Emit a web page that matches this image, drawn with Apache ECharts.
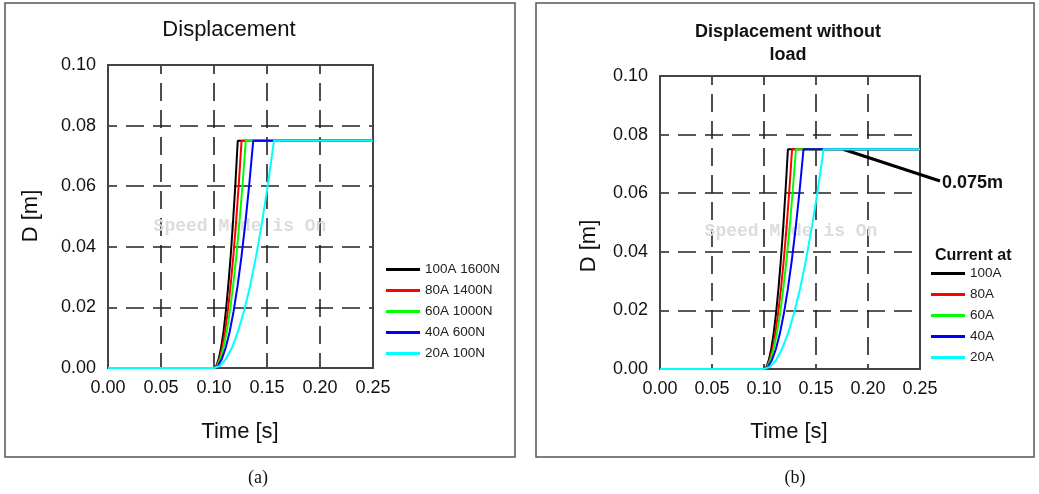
<!DOCTYPE html>
<html><head><meta charset="utf-8">
<script src="https://cdn.jsdelivr.net/npm/echarts@6/dist/echarts.min.js"></script>
<style>html,body{margin:0;padding:0;background:#fff}#c{width:1039px;height:494px}</style>
</head><body><div id="c"></div>
<script>
// ---------- data ----------
const xTickLabels = ['0.00', '0.05', '0.10', '0.15', '0.20', '0.25'];
const yTickLabels = ['0.00', '0.02', '0.04', '0.06', '0.08', '0.10'];
const simStart = 0.0;
const simEnd = 0.25;
const finalD = 0.075;
// displacement levels at which the curve crossings were read
const riseLevels = [0, 0.00075, 0.003, 0.00675, 0.012, 0.01875, 0.027, 0.03675, 0.048, 0.06075, 0.075];

// (a) Displacement (with load): times [s] at which each curve reaches riseLevels
const leftNames = ['100A 1600N', '80A 1400N', '60A 1000N', '40A 600N', '20A 100N'];
const a100A = [0.1000, 0.1022, 0.1045, 0.1067, 0.1090, 0.1112, 0.1134, 0.1157, 0.1179, 0.1202, 0.1224];
const a80A  = [0.1000, 0.1026, 0.1052, 0.1078, 0.1104, 0.1130, 0.1156, 0.1182, 0.1208, 0.1234, 0.1260];
const a60A  = [0.1000, 0.1030, 0.1060, 0.1090, 0.1120, 0.1150, 0.1180, 0.1210, 0.1240, 0.1270, 0.1300];
const a40A  = [0.1000, 0.1037, 0.1074, 0.1111, 0.1148, 0.1185, 0.1222, 0.1259, 0.1296, 0.1333, 0.1370];
const a20A  = [0.1000, 0.1057, 0.1113, 0.1170, 0.1226, 0.1283, 0.1340, 0.1396, 0.1453, 0.1509, 0.1566];

// (b) Displacement without load
const rightNames = ['100A', '80A', '60A', '40A', '20A'];
const b100A = [0.1000, 0.1023, 0.1046, 0.1069, 0.1092, 0.1115, 0.1138, 0.1161, 0.1184, 0.1207, 0.1230];
const b80A  = [0.1000, 0.1027, 0.1054, 0.1081, 0.1108, 0.1135, 0.1162, 0.1189, 0.1216, 0.1243, 0.1270];
const b60A  = [0.1000, 0.1031, 0.1061, 0.1092, 0.1123, 0.1154, 0.1184, 0.1215, 0.1246, 0.1276, 0.1307];
const b40A  = [0.1000, 0.1038, 0.1076, 0.1114, 0.1152, 0.1190, 0.1228, 0.1266, 0.1304, 0.1342, 0.1380];
const b20A  = [0.1000, 0.1057, 0.1115, 0.1172, 0.1229, 0.1287, 0.1344, 0.1401, 0.1458, 0.1516, 0.1573];
const annotationTime = 0.176;

const colors = ['#000000', '#ff0000', '#00ff00', '#0000ff', '#00ffff'];

// ---------- chart ----------
function curve(times) {
  const d = [[simStart, 0]];
  times.forEach((t, i) => d.push([t, riseLevels[i]]));
  d.push([simEnd, finalD]);
  return d;
}
const FONT = 'Arial, "Liberation Sans", sans-serif';
const chart = echarts.init(document.getElementById('c'), null, {renderer: 'canvas'});

function xAxis(gi) {
  return {
    gridIndex: gi, type: 'value', min: 0, max: 0.25, interval: 0.05,
    axisLine: {show: false}, axisTick: {show: false},
    axisLabel: {color: '#111', fontSize: 18, fontFamily: FONT, margin: 11,
      formatter: (v) => xTickLabels[Math.round(v / 0.05)]},
    splitLine: {show: true, lineStyle: {color: '#222', width: 1.6, type: [18, 9], dashOffset: 9}}
  };
}
function yAxis(gi) {
  return {
    gridIndex: gi, type: 'value', min: 0, max: 0.1, interval: 0.02,
    axisLine: {show: false}, axisTick: {show: false},
    axisLabel: {color: '#111', fontSize: 18, fontFamily: FONT, margin: 12,
      formatter: (v) => yTickLabels[Math.round(v / 0.02)]},
    splitLine: {show: true, lineStyle: {color: '#222', width: 1.6, type: [18, 9], dashOffset: 9}}
  };
}
function mk(name, times, i, gi) {
  return {
    name, type: 'line', xAxisIndex: gi, yAxisIndex: gi, data: curve(times),
    symbol: 'none', showSymbol: false, smooth: false, z: 5 + i,
    lineStyle: {color: colors[i], width: 2}, itemStyle: {color: colors[i]},
    emphasis: {disabled: true}
  };
}
const leftSets = [a100A, a80A, a60A, a40A, a20A];
const rightSets = [b100A, b80A, b60A, b40A, b20A];
const series = [];
leftSets.forEach((s, i) => series.push(mk(leftNames[i], s, i, 0)));
rightSets.forEach((s, i) => series.push(mk(rightNames[i], s, i, 1)));
// annotation pointer for 0.075m
series[series.length - 1].markLine = {
  silent: true, symbol: ['none', 'none'], animation: false,
  lineStyle: {color: '#000', width: 3, type: 'solid'}, label: {show: false},
  data: [[{coord: [annotationTime, finalD]}, {x: 940, y: 181}]]
};

const legendCommon = {
  orient: 'vertical', icon: 'rect', itemWidth: 34, itemHeight: 3, itemGap: 6,
  textStyle: {fontSize: 13.5, color: '#222', fontFamily: FONT, lineHeight: 15},
  selectedMode: false, padding: 0
};

const option = {
  animation: false,
  backgroundColor: '#fff',
  grid: [
    {left: 108, top: 65, width: 265, height: 303, show: true, borderColor: '#444', borderWidth: 2, backgroundColor: 'rgba(0,0,0,0)', z: 3},
    {left: 660, top: 76, width: 260, height: 293, show: true, borderColor: '#444', borderWidth: 2, backgroundColor: 'rgba(0,0,0,0)', z: 3}
  ],
  xAxis: [xAxis(0), xAxis(1)],
  yAxis: [yAxis(0), yAxis(1)],
  legend: [
    Object.assign({}, legendCommon, {data: leftNames, left: 386, top: 262}),
    Object.assign({}, legendCommon, {data: rightNames, left: 931, top: 266})
  ],
  series,
  graphic: [
    {type: 'rect', shape: {x: 5, y: 3, width: 510, height: 454}, style: {fill: 'none', stroke: '#555', lineWidth: 1.5}, z: -10},
    {type: 'rect', shape: {x: 536, y: 3, width: 498, height: 454}, style: {fill: 'none', stroke: '#555', lineWidth: 1.5}, z: -10},
    {type: 'text', x: 229, y: 30, style: {text: 'Displacement', font: '22px ' + FONT, fill: '#111', textAlign: 'center', textVerticalAlign: 'middle'}},
    {type: 'text', x: 788, y: 44, style: {text: 'Displacement without\nload', font: 'bold 18px ' + FONT, lineHeight: 23, fill: '#111', textAlign: 'center', textVerticalAlign: 'middle'}},
    {type: 'text', x: 31, y: 216, rotation: Math.PI / 2, style: {text: 'D [m]', font: '22px ' + FONT, fill: '#111', textAlign: 'center', textVerticalAlign: 'middle'}},
    {type: 'text', x: 589, y: 246, rotation: Math.PI / 2, style: {text: 'D [m]', font: '22px ' + FONT, fill: '#111', textAlign: 'center', textVerticalAlign: 'middle'}},
    {type: 'text', x: 240, y: 432, style: {text: 'Time [s]', font: '22px ' + FONT, fill: '#111', textAlign: 'center', textVerticalAlign: 'middle'}},
    {type: 'text', x: 789, y: 432, style: {text: 'Time [s]', font: '22px ' + FONT, fill: '#111', textAlign: 'center', textVerticalAlign: 'middle'}},
    {type: 'text', x: 240, y: 226, z: 1, style: {text: 'Speed Mode is On', font: 'bold 18px "Liberation Mono", "DejaVu Sans Mono", monospace', fill: '#dcdcdc', textAlign: 'center', textVerticalAlign: 'middle'}},
    {type: 'text', x: 791, y: 231, z: 1, style: {text: 'Speed Mode is On', font: 'bold 18px "Liberation Mono", "DejaVu Sans Mono", monospace', fill: '#dcdcdc', textAlign: 'center', textVerticalAlign: 'middle'}},
    {type: 'text', x: 935, y: 256, style: {text: 'Current at', font: 'bold 16px ' + FONT, fill: '#111', textAlign: 'left', textVerticalAlign: 'middle'}},
    {type: 'text', x: 942, y: 183, style: {text: '0.075m', font: 'bold 18px ' + FONT, fill: '#111', textAlign: 'left', textVerticalAlign: 'middle'}},
    {type: 'text', x: 258, y: 478, style: {text: '(a)', font: '18px "Liberation Serif", "Times New Roman", serif', fill: '#111', textAlign: 'center', textVerticalAlign: 'middle'}},
    {type: 'text', x: 795, y: 478, style: {text: '(b)', font: '18px "Liberation Serif", "Times New Roman", serif', fill: '#111', textAlign: 'center', textVerticalAlign: 'middle'}}
  ]
};
chart.setOption(option);
</script></body></html>
